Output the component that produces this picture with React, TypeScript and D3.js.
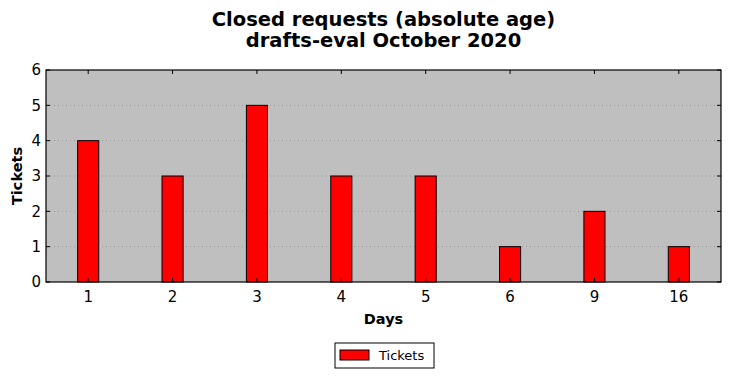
import React from "react";
import * as d3 from "d3";

const categories: string[] = ["1", "2", "3", "4", "5", "6", "9", "16"];
const tickets: number[] = [4, 3, 5, 3, 3, 1, 2, 1];
const yTicks: number[] = [0, 1, 2, 3, 4, 5, 6];
const titleLines: string[] = ["Closed requests (absolute age)", "drafts-eval October 2020"];
const seriesName = "Tickets";
const xLabel = "Days";
const yLabel = "Tickets";

const W = 731;
const H = 378;
const M = { left: 46, right: 721, top: 70, bottom: 282 };
const FONT = "DejaVu Sans, Verdana, sans-serif";

export default function App() {
  const x = d3
    .scaleBand<string>()
    .domain(categories)
    .range([M.left, M.right])
    .paddingInner(0)
    .paddingOuter(0);
  const y = d3.scaleLinear().domain([0, 6]).range([M.bottom, M.top]);
  const bw = x.bandwidth() * 0.25;

  return (
    <svg
      width={W}
      height={H}
      style={{ position: "absolute", left: 0, top: 0, background: "#fff" }}
      fontFamily={FONT}
    >
      <rect x={M.left} y={M.top} width={M.right - M.left} height={M.bottom - M.top} fill="#bfbfbf" />
      {yTicks.slice(1, -1).map((t) => (
        <line
          key={"g" + t}
          x1={M.left}
          x2={M.right}
          y1={y(t)}
          y2={y(t)}
          stroke="#8c8c8c"
          strokeWidth={0.8}
          strokeDasharray="1,3"
        />
      ))}
      {categories.map((c, i) => {
        const cx = (x(c) as number) + x.bandwidth() / 2;
        return (
          <rect
            key={c}
            x={cx - bw / 2}
            y={y(tickets[i])}
            width={bw}
            height={y(0) - y(tickets[i])}
            fill="#ff0000"
            stroke="#000"
            strokeWidth={1}
          />
        );
      })}
      <rect
        x={M.left}
        y={M.top}
        width={M.right - M.left}
        height={M.bottom - M.top}
        fill="none"
        stroke="#000"
        strokeWidth={1.2}
      />
      {yTicks.map((t) => (
        <g key={"y" + t}>
          <line x1={M.left} x2={M.left + 4} y1={y(t)} y2={y(t)} stroke="#000" />
          <line x1={M.right - 4} x2={M.right} y1={y(t)} y2={y(t)} stroke="#000" />
          <text x={M.left - 5} y={y(t)} dy="0.35em" textAnchor="end" fontSize={15}>
            {t}
          </text>
        </g>
      ))}
      {categories.map((c) => {
        const cx = (x(c) as number) + x.bandwidth() / 2;
        return (
          <g key={"x" + c}>
            <line x1={cx} x2={cx} y1={M.bottom} y2={M.bottom - 4} stroke="#000" />
            <line x1={cx} x2={cx} y1={M.top} y2={M.top + 4} stroke="#000" />
            <text x={cx} y={M.bottom + 20} textAnchor="middle" fontSize={15}>
              {c}
            </text>
          </g>
        );
      })}
      {titleLines.map((l, i) => (
        <text
          key={l}
          x={(M.left + M.right) / 2}
          y={26 + i * 21}
          textAnchor="middle"
          fontSize={19.5}
          fontWeight="bold"
        >
          {l}
        </text>
      ))}
      <text x={(M.left + M.right) / 2} y={324} textAnchor="middle" fontSize={14.5} fontWeight="bold">
        {xLabel}
      </text>
      <text
        transform={`translate(22,${(M.top + M.bottom) / 2}) rotate(-90)`}
        textAnchor="middle"
        fontSize={14.5}
        fontWeight="bold"
      >
        {yLabel}
      </text>
      <g>
        <rect x={335} y={343} width={99} height={25} fill="#fff" stroke="#000" strokeWidth={1} />
        <rect x={340} y={350} width={29} height={10} fill="#ff0000" stroke="#000" strokeWidth={1} />
        <text x={379} y={360} fontSize={13}>
          {seriesName}
        </text>
      </g>
    </svg>
  );
}
